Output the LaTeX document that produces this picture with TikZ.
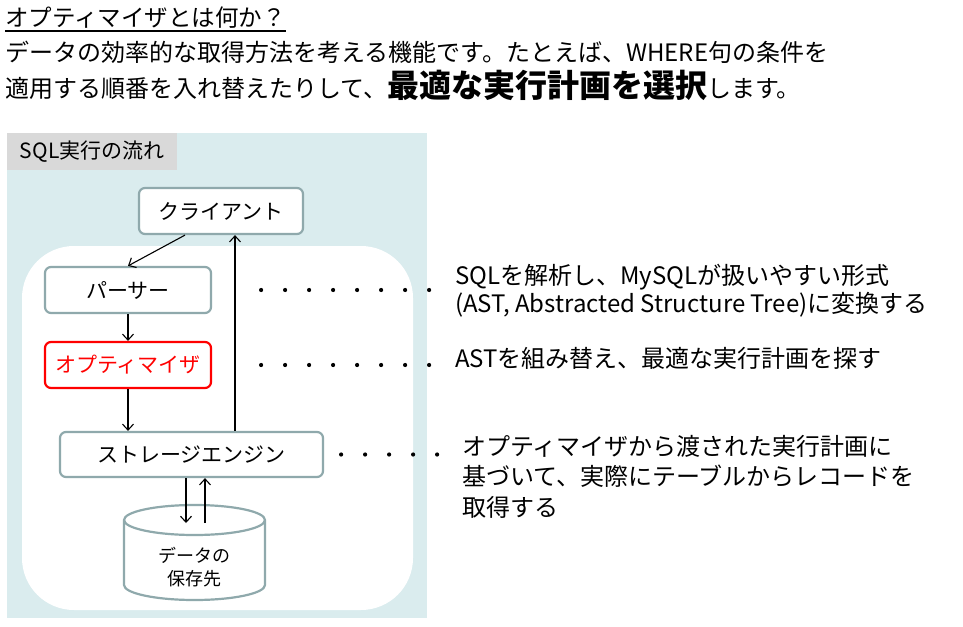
\documentclass[tikz,border=0pt]{standalone}
\usepackage{fontspec}
\setmainfont{Noto Sans CJK JP}
\usepackage{tikz}
\usetikzlibrary{arrows.meta, positioning}
\definecolor{flowBg}{HTML}{DAECEE}
\definecolor{flowTag}{HTML}{D9D9D9}
\definecolor{flowEdge}{HTML}{8FA9AC}
\definecolor{flowRed}{HTML}{FF0000}

\begin{document}
\begin{tikzpicture}[x=1pt, y=-1pt,
  stage/.style={draw=flowEdge, line width=2.2pt, fill=white, rounded corners=6pt,
                minimum height=46pt, inner sep=0pt, font=\fontsize{21}{24}\selectfont},
  note/.style={anchor=west, align=left, inner sep=0pt, font=\fontsize{24}{#1}\selectfont},
  note/.default=28pt,
  lead/.style={anchor=base west, inner sep=0pt, font=\fontsize{24}{28}\selectfont},
  flow/.style={-{Straight Barb[length=6pt,width=11pt]}, line width=1.1pt},
  dots/.style={line width=4.2pt, line cap=round, dash pattern=on 0pt off 24pt},
]
  \useasboundingbox (0,0) rectangle (963,626);

  % heading
  \node[lead, font=\fontsize{23.5}{28}\selectfont] (title) at (5,27) {オプティマイザとは何か？};
  \draw[line width=1.6pt] ([yshift=-4pt]title.base west) -- ([yshift=-4pt]title.base east);
  \node[lead] (lead1) at (5,61) {データの効率的な取得方法を考える機能です。たとえば、WHERE句の条件を};
  \node[lead] (lead2) at (5,97)
    {適用する順番を入れ替えたりして、{\fontsize{32}{34}\selectfont\bfseries 最適な実行計画を選択}します。};

  % panel
  \fill[flowBg] (7,133) rectangle (427,618);
  \node[fill=flowTag, anchor=north west, minimum width=170pt, minimum height=37pt,
        inner sep=0pt, font=\fontsize{21}{24}\selectfont] (tag) at (7,133) {SQL実行の流れ};
  \fill[white, rounded corners=52pt] (22,246) rectangle (413,610);

  \node[stage, minimum width=164pt] (client) at (221,211) {クライアント};
  \node[stage, minimum width=166pt] (parser) at (128,290) {パーサー};
  \node[stage, minimum width=166pt, draw=flowRed, text=flowRed] (optim) at (128,365) {オプティマイザ};
  \node[stage, minimum width=263pt, minimum height=45pt] (engine) at (191.5,454.5) {ストレージエンジン};

  % data store
  \filldraw[fill=white, draw=flowEdge, line width=2.2pt]
    (124,520) -- (124,585) arc[start angle=180, end angle=0, x radius=70.5, y radius=15]
    -- (265,520) arc[start angle=0, end angle=-180, x radius=70.5, y radius=15] -- cycle;
  \draw[flowEdge, line width=2.2pt] (265,520) arc[start angle=0, end angle=180, x radius=70.5, y radius=15];
  \node[align=center, inner sep=0pt, font=\fontsize{18}{23}\selectfont] (store) at (194.5,567) {データの\\保存先};
  \coordinate (storeIn) at (186,523);
  \coordinate (storeOut) at (205,523);

  \draw[flow] ([xshift=-36pt]client.south) -- (parser.north);
  \draw[flow] (parser) -- (optim);
  \draw[flow] (optim) -- (engine.north -| optim);
  \draw[flow] ([xshift=43.5pt]engine.north) -- ([xshift=43.5pt]engine.north |- client.south);
  \draw[flow] (engine.south -| storeIn) -- (storeIn);
  \draw[flow] (storeOut) -- (engine.south -| storeOut);

  % notes
  \node[note] (noteParse) at (455,291) {SQLを解析し、MySQLが扱いやすい形式\\(AST, Abstracted Structure Tree)に変換する};
  \node[note] (noteOptim) at (455,358) {ASTを組み替え、最適な実行計画を探す};
  \node[note=30.5pt] (noteEngine) at (462,476.5) {オプティマイザから渡された実行計画に\\基づいて、実際にテーブルからレコードを\\取得する};

  \draw[dots] ([xshift=49pt]parser.east) -- ++(168,0);
  \draw[dots] ([xshift=49pt]optim.east) -- ++(168,0);
  \draw[dots] ([xshift=17pt]engine.east) -- ++(96,0);
\end{tikzpicture}
\end{document}
